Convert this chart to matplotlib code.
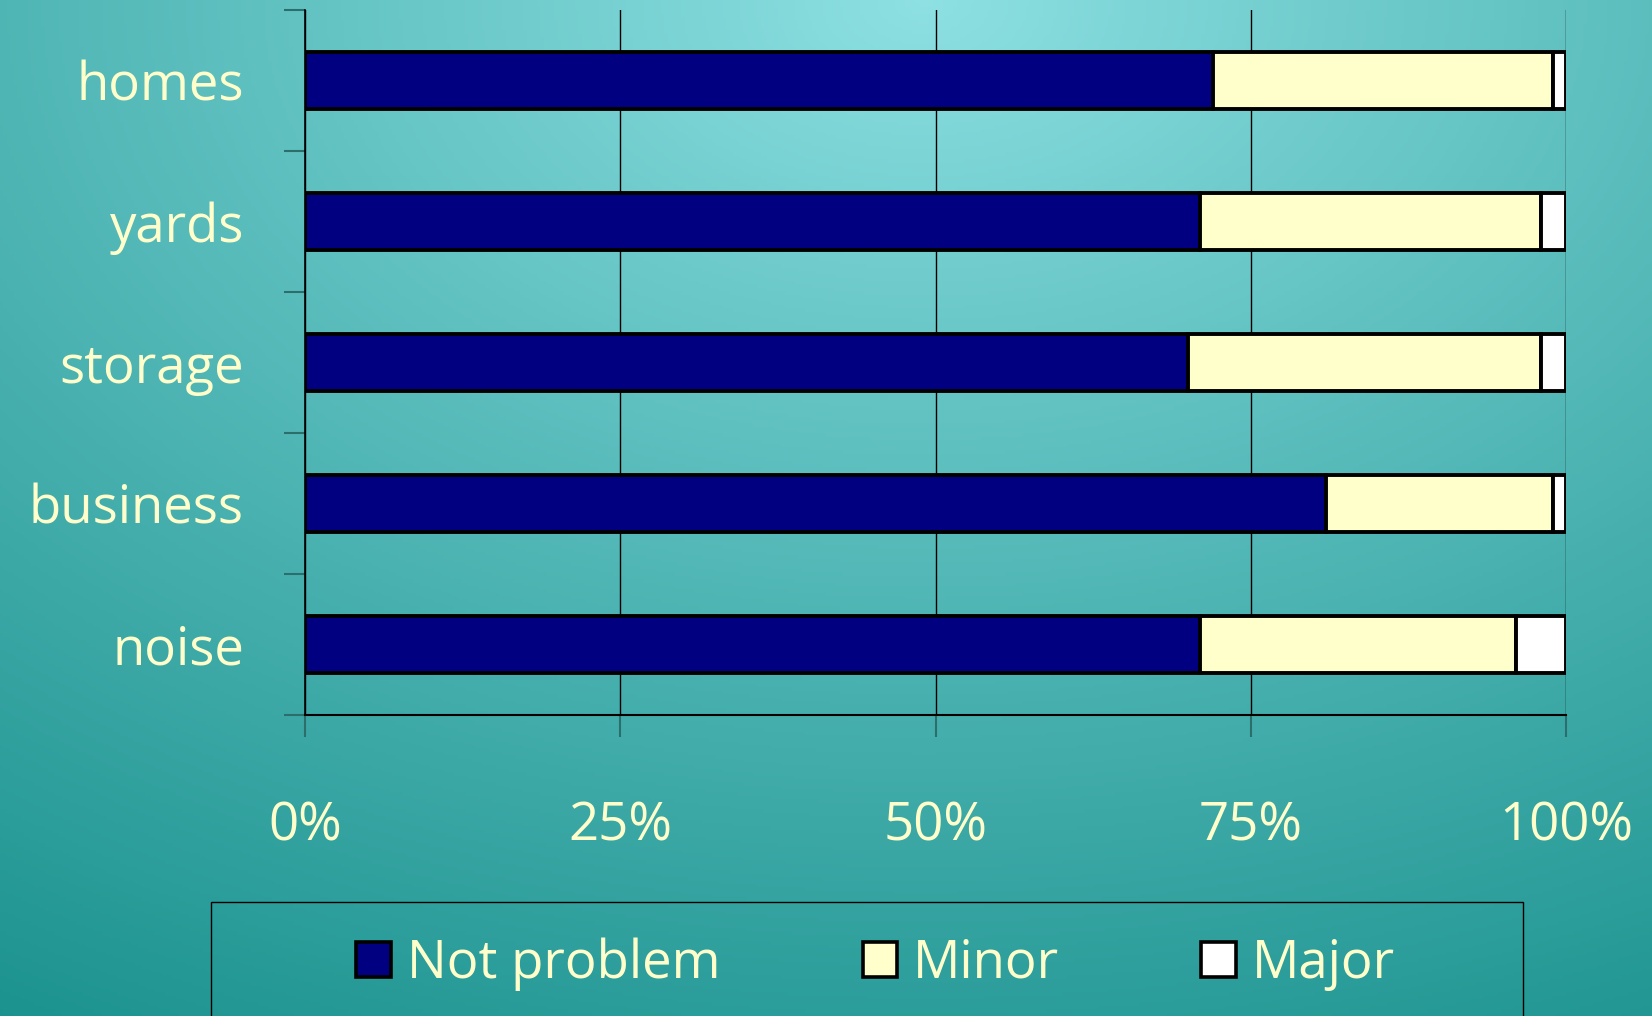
import numpy as np
import matplotlib
matplotlib.use("Agg")
import matplotlib.pyplot as plt
from matplotlib.patches import Patch, Rectangle

categories = ["homes", "yards", "storage", "business", "noise"]
not_problem = [72, 71, 70, 81, 71]
minor = [27, 27, 28, 18, 25]
major = [1, 2, 2, 1, 4]
series_names = ["Not problem", "Minor", "Major"]
series_colors = ["#000080", "#FFFFCC", "#FFFFFF"]
x_ticks = [0, 25, 50, 75, 100]
x_labels = ["0%", "25%", "50%", "75%", "100%"]

TEXT = "#FFFFCC"
plt.rcParams["font.family"] = ["Open Sans", "DejaVu Sans"]

W, H = 1652, 1016
fig = plt.figure(figsize=(W / 100, H / 100), dpi=100)

# background: radial-ish gradient, light at top centre, dark teal in the bottom corners
bg = fig.add_axes([0, 0, 1, 1], zorder=-10)
yy, xx = np.mgrid[0:1:300j, 0:1:480j]
t = np.sqrt(((xx - 0.56) / 1.25) ** 2 + (yy / 1.35) ** 2)
t = np.clip(t / 0.9, 0, 1) ** 0.9
light = np.array([143, 225, 227]) / 255
dark = np.array([24, 144, 140]) / 255
img = light[None, None, :] * (1 - t[..., None]) + dark[None, None, :] * t[..., None]
bg.imshow(img, extent=[0, 1, 0, 1], origin="upper", aspect="auto")
bg.axis("off")

ax = fig.add_axes([305 / W, 1 - 715 / H, (1566 - 305) / W, (715 - 10) / H])
ax.set_facecolor("none")

y = np.arange(len(categories))
left = np.zeros(len(categories))
for vals, name, col in zip([not_problem, minor, major], series_names, series_colors):
    ax.barh(y, vals, left=left, height=0.4, color=col, edgecolor="black",
            linewidth=2.8, label=name, zorder=3)
    left += np.array(vals)

ax.set_xlim(0, 100)
ax.set_ylim(len(categories) - 0.5, -0.5)

ax.set_xticks(x_ticks)
ax.set_xticklabels(x_labels)
ax.tick_params(axis="x", direction="out", length=16, width=1.5, color="#2b6e6c",
               pad=45, labelsize=38, labelcolor=TEXT)
ax.grid(axis="x", color="black", linewidth=1.0, zorder=1)

ax.set_yticks(np.arange(len(categories) + 1) - 0.5)
ax.set_yticklabels([])
ax.set_yticks(y, minor=True)
ax.set_yticklabels(categories, minor=True)
ax.tick_params(axis="y", which="major", direction="out", length=15, width=1.5, color="#2b6e6c")
ax.tick_params(axis="y", which="minor", length=0, pad=44, labelsize=38, labelcolor=TEXT)

for s in ["top", "right"]:
    ax.spines[s].set_visible(False)
ax.spines["left"].set_linewidth(1.2)
ax.spines["bottom"].set_linewidth(1.5)

# legend box (runs off the bottom of the slide)
fig.patches.append(Rectangle((211 / W, -0.05), (1523 - 211) / W, 0.05 + 1 - 902 / H,
                             transform=fig.transFigure, facecolor="none",
                             edgecolor="black", linewidth=1.0))
handles = [Patch(facecolor=c, edgecolor="black", linewidth=2.6) for c in series_colors]
fig.legend(handles, series_names, loc="center", bbox_to_anchor=(0.53, 1 - 964 / H),
           ncol=3, frameon=False, fontsize=38, labelcolor=TEXT,
           handlelength=0.65, handleheight=0.65, handletextpad=0.3, columnspacing=2.7)

fig.savefig("out.png", dpi=100)
